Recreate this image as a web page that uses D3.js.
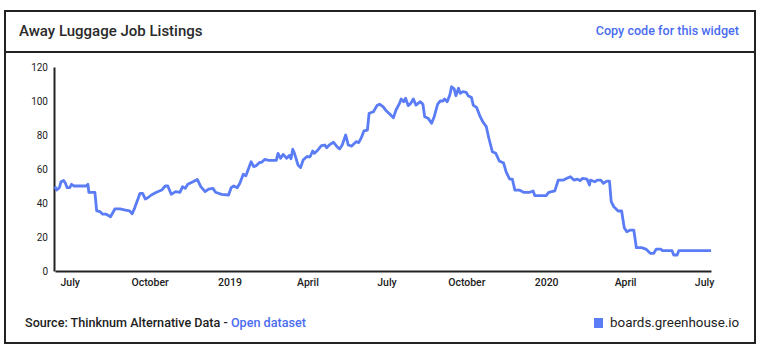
<!DOCTYPE html>
<html>
<head>
<meta charset="utf-8">
<script src="https://cdn.jsdelivr.net/npm/d3@7"></script>
<style>
  html, body { margin: 0; padding: 0; background: #fff; }
  svg { display: block; }
</style>
</head>
<body>
<svg id="chart" width="764" height="357"></svg>
<script>
// ---- data ----
const title = "Away Luggage Job Listings";
const seriesName = "boards.greenhouse.io";
const dates = [
  "2018-06-14","2018-06-16","2018-06-19","2018-06-21","2018-06-24","2018-06-26","2018-06-28","2018-07-01","2018-07-03","2018-07-06",
  "2018-07-20","2018-07-22","2018-07-23","2018-07-30","2018-08-01","2018-08-05","2018-08-08","2018-08-12","2018-08-17","2018-08-22",
  "2018-08-28","2018-09-02","2018-09-08","2018-09-11","2018-09-14","2018-09-20","2018-09-23","2018-09-26","2018-09-29","2018-10-03",
  "2018-10-09","2018-10-15","2018-10-19","2018-10-22","2018-10-26","2018-10-31","2018-11-05","2018-11-08","2018-11-11","2018-11-14",
  "2018-11-20","2018-11-25","2018-11-29","2018-12-04","2018-12-08","2018-12-13","2018-12-16","2018-12-23","2018-12-31","2019-01-03",
  "2019-01-06","2019-01-10","2019-01-13","2019-01-17","2019-01-20","2019-01-22","2019-01-26","2019-01-29","2019-02-01","2019-02-05",
  "2019-02-07","2019-02-11","2019-02-15","2019-02-24","2019-02-26","2019-03-01","2019-03-04","2019-03-08","2019-03-11","2019-03-13",
  "2019-03-15","2019-03-17","2019-03-21","2019-03-24","2019-03-27","2019-03-31","2019-04-04","2019-04-07","2019-04-09","2019-04-13",
  "2019-04-17","2019-04-21","2019-04-23","2019-04-27","2019-05-01","2019-05-05","2019-05-08","2019-05-11","2019-05-15","2019-05-18",
  "2019-05-22","2019-05-27","2019-05-30","2019-06-02","2019-06-05","2019-06-09","2019-06-11","2019-06-16","2019-06-20","2019-06-23",
  "2019-06-27","2019-07-01","2019-07-05","2019-07-09","2019-07-12","2019-07-16","2019-07-18","2019-07-21","2019-07-23","2019-07-26",
  "2019-07-29","2019-08-01","2019-08-04","2019-08-09","2019-08-12","2019-08-14","2019-08-18","2019-08-22","2019-08-25","2019-08-29",
  "2019-09-01","2019-09-04","2019-09-06","2019-09-09","2019-09-12","2019-09-14","2019-09-17","2019-09-19","2019-09-22","2019-09-24",
  "2019-09-27","2019-10-01","2019-10-03","2019-10-07","2019-10-09","2019-10-13","2019-10-17","2019-10-20","2019-10-24","2019-10-27",
  "2019-10-31","2019-11-04","2019-11-08","2019-11-13","2019-11-16","2019-11-20","2019-11-23","2019-11-26","2019-12-01","2019-12-06",
  "2019-12-13","2019-12-17","2019-12-19","2020-01-01","2020-01-04","2020-01-11","2020-01-15","2020-01-21","2020-01-25","2020-01-29",
  "2020-02-02","2020-02-06","2020-02-09","2020-02-12","2020-02-17","2020-02-20","2020-02-21","2020-02-26","2020-02-29","2020-03-04",
  "2020-03-07","2020-03-11","2020-03-14","2020-03-16","2020-03-19","2020-03-24","2020-03-28","2020-03-31","2020-04-03","2020-04-07",
  "2020-04-11","2020-04-14","2020-04-20","2020-04-25","2020-04-30","2020-05-04","2020-05-07","2020-05-12","2020-05-14","2020-05-25",
  "2020-05-27","2020-05-31","2020-06-02","2020-07-09"
];
const values = [
  49.6,47.6,49,52.5,53.3,51.6,49,49,51,50,
  50,51,46.3,46.3,35.3,34.9,33.4,33.4,31.9,36.5,
  36.5,35.9,35.3,33.7,37.3,45.7,45.7,42.4,43.1,44.7,
  46.3,47.6,50,50,45.1,46.7,46.3,49.6,48.6,51,
  52.5,53.9,49.6,46.7,48.2,48.6,46.3,45.1,44.7,49,
  50,49,51.6,56.9,56,58.8,64.3,61.4,62,63.9,
  63.9,65.7,65.1,65.1,69.2,66.3,68.6,66.3,68,66,
  71.6,69.2,62.4,60.8,65.3,67.2,67.2,70.6,69.2,71.2,
  73.7,74.1,72.5,74.5,75.7,73.1,71.8,74.1,80,74.1,
  73.5,76.1,75.5,78.4,82.4,82.9,92.8,93.7,97.3,98.1,
  96.7,94.1,92.2,90.2,94.7,98.6,101.2,99.6,101.6,97.3,
  98.6,101.2,97.6,99.6,98.1,90.8,89.8,86.9,90.8,98.1,
  100,100,101.2,99.6,103.5,108.4,107.1,103.1,107.5,104.5,
  105.5,105.1,103.1,102,97.6,96.1,90.8,87.8,84.9,78.1,
  70.2,69.2,64.7,63.5,58.1,54.1,54.1,47.6,47.6,46.3,
  46.3,47.1,44.3,44.3,46.3,47.1,53.5,53.5,54.5,55.5,
  53.5,54,53.2,54.5,54,50.6,53.5,52.5,53.5,53.5,
  51.6,52.9,52.9,40.8,37.8,35.3,35.3,25.5,23.1,24.1,
  24.1,13.7,13.7,12.9,10.4,10.4,12.9,12.9,12,12,
  9.4,9.4,12,12
];
const yTicks = [0, 20, 40, 60, 80, 100, 120];
const xTickDates = ["2018-07-01","2018-10-01","2019-01-01","2019-04-01","2019-07-01","2019-10-01","2020-01-01","2020-04-01","2020-07-01"];
const xTickLabels = ["July","October","2019","April","July","October","2020","April","July"];

// ---- drawing ----
const parse = d3.utcParse("%Y-%m-%d");
const data = dates.map((d, i) => ({ date: parse(d), value: values[i] }));
const lineColor = "#5a7cf5";
const ink = "#222";
const font = "Roboto, 'Liberation Sans', Arial, sans-serif";

const svg = d3.select("#chart");

// card frame
svg.append("rect").attr("x", 5).attr("y", 11).attr("width", 750).attr("height", 332)
  .attr("fill", "#fff").attr("stroke", ink).attr("stroke-width", 2);
svg.append("line").attr("x1", 5).attr("x2", 755).attr("y1", 52).attr("y2", 52)
  .attr("stroke", ink).attr("stroke-width", 2);

svg.append("text").attr("x", 19).attr("y", 36).text(title)
  .attr("font-family", font).attr("font-weight", 500).attr("font-size", 15)
  .attr("fill", "#2a2a2a");
svg.append("text").attr("x", 739).attr("y", 35).attr("text-anchor", "end")
  .text("Copy code for this widget")
  .attr("font-family", font).attr("font-weight", 500).attr("font-size", 12.6)
  .attr("fill", "#4a6cf0");

// scales
const x = d3.scaleUtc().domain(d3.extent(data, d => d.date)).range([55, 711]);
const y = d3.scaleLinear().domain([0, 120]).range([271, 67]);

// y axis
const yAxis = svg.append("g").attr("transform", "translate(54,0)")
  .call(d3.axisLeft(y).tickValues(yTicks).tickSize(0).tickPadding(6));
yAxis.select(".domain").attr("stroke", ink).attr("stroke-width", 2);
yAxis.selectAll("text").attr("font-family", font).attr("font-size", 10).attr("fill", ink);

// x axis
const tickMap = new Map(xTickDates.map((d, i) => [+parse(d), xTickLabels[i]]));
const xAxis = svg.append("g").attr("transform", "translate(0,271)")
  .call(d3.axisBottom(x).tickValues(xTickDates.map(parse)).tickSize(0).tickPadding(8)
    .tickFormat(d => tickMap.get(+d)));
xAxis.select(".domain").attr("stroke", ink).attr("stroke-width", 2);
xAxis.selectAll("text").attr("font-family", font).attr("font-weight", 500)
  .attr("font-size", 10.5).attr("fill", ink);

// line
svg.append("path").datum(data)
  .attr("fill", "none").attr("stroke", lineColor).attr("stroke-width", 2.8)
  .attr("stroke-linejoin", "round")
  .attr("d", d3.line().x(d => x(d.date)).y(d => y(d.value)));

// footer
const src = svg.append("text").attr("x", 25).attr("y", 327)
  .attr("font-family", font).attr("font-weight", 500).attr("font-size", 12.6).attr("fill", ink);
src.append("tspan").text("Source: Thinknum Alternative Data - ");
src.append("tspan").attr("fill", "#4a6cf0").text("Open dataset");

svg.append("rect").attr("x", 594).attr("y", 318).attr("width", 9).attr("height", 10)
  .attr("fill", lineColor);
svg.append("text").attr("x", 610).attr("y", 327).text(seriesName)
  .attr("font-family", font).attr("font-size", 13.4).attr("fill", ink);
</script>
</body>
</html>
